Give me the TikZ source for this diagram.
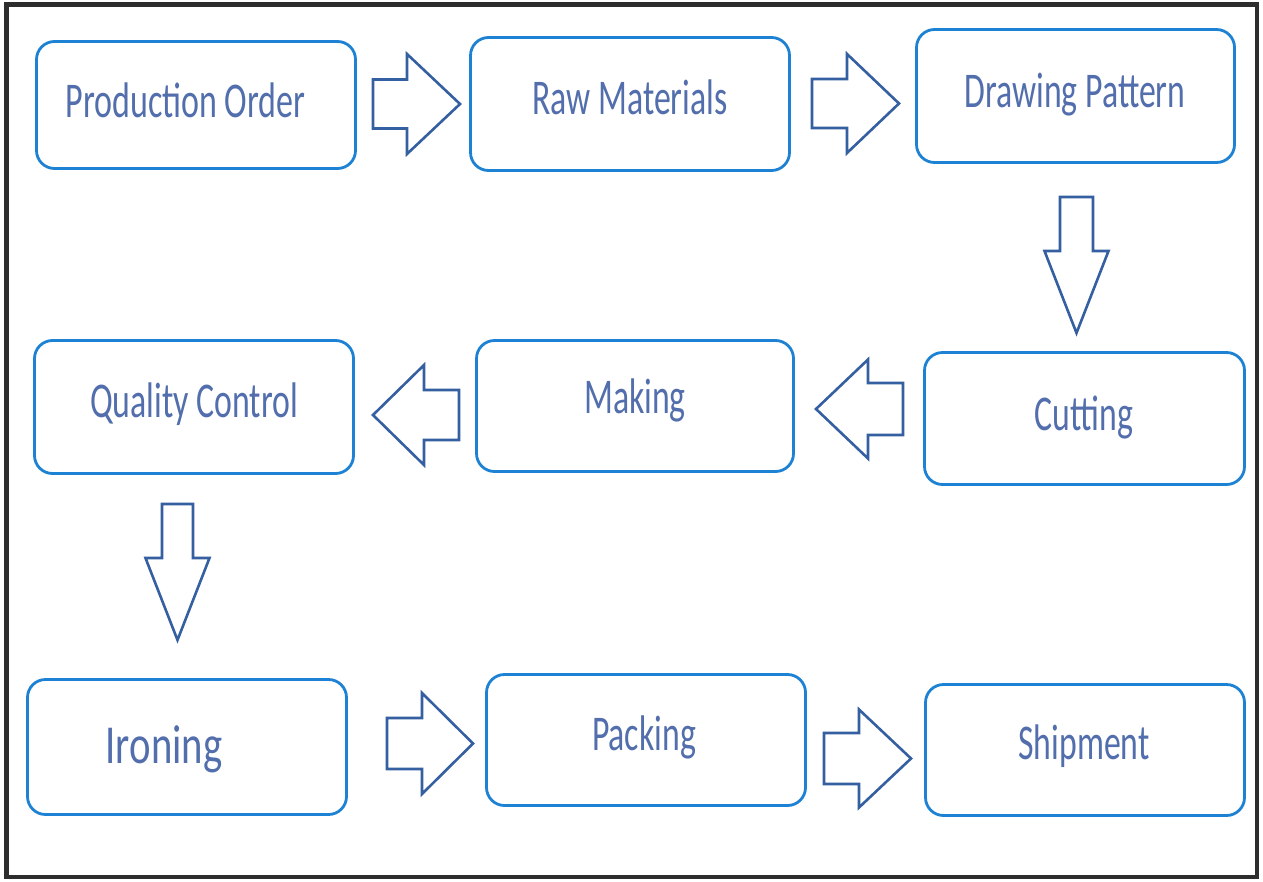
\documentclass[tikz,border=0pt]{standalone}
\usepackage{fontspec}
\setmainfont{Carlito}
\usepackage{graphicx}
\definecolor{boxblue}{RGB}{30,130,212}
\definecolor{arrblue}{RGB}{52,95,160}
\definecolor{txtblue}{RGB}{82,110,172}
\definecolor{framegray}{RGB}{45,45,45}
\newcommand{\lbl}[2]{\scalebox{#1}[1]{#2}}
% right-pointing block arrow: tail x, head base x, tip x, centre y, shaft half, head half
\newcommand{\rarrow}[6]{\draw[blockarrow] (#1,#4-#5) -- (#2,#4-#5) -- (#2,#4-#6) -- (#3,#4) -- (#2,#4+#6) -- (#2,#4+#5) -- (#1,#4+#5) -- cycle;}
% down-pointing block arrow: tail y, head base y, tip y, centre x, shaft half, head half
\newcommand{\darrow}[6]{\draw[blockarrow] (#4-#5,#1) -- (#4-#5,#2) -- (#4-#6,#2) -- (#4,#3) -- (#4+#6,#2) -- (#4+#5,#2) -- (#4+#5,#1) -- cycle;}
\begin{document}
\begin{tikzpicture}[x=1pt,y=-1pt,
  stepbox/.style={draw=boxblue,line width=2.8pt,rounded corners=18pt,inner sep=0pt,fill=white},
  steptext/.style={anchor=base,inner sep=0pt,text=txtblue,font=\fontsize{50}{60}\selectfont},
  blockarrow/.style={draw=arrblue,line width=2.6pt,line join=miter,fill=white}]
\useasboundingbox (0,0) rectangle (1263,881);
\fill[white] (0,0) rectangle (1263,881);
\draw[framegray,line width=4.5pt] (6.5,4.5) rectangle (1257,877);

% boxes
\node[stepbox,minimum width=319pt,minimum height=127pt] (po) at (196,105) {};
\node[stepbox,minimum width=319pt,minimum height=133pt] (rm) at (630,104) {};
\node[stepbox,minimum width=318pt,minimum height=133pt] (dp) at (1075.5,96) {};
\node[stepbox,minimum width=320pt,minimum height=132pt] (cu) at (1084.5,418.5) {};
\node[stepbox,minimum width=317pt,minimum height=131pt] (mk) at (635,406) {};
\node[stepbox,minimum width=319pt,minimum height=133pt] (qc) at (194,407) {};
\node[stepbox,minimum width=319pt,minimum height=135pt] (ir) at (187,747) {};
\node[stepbox,minimum width=319pt,minimum height=131pt] (pk) at (646,740) {};
\node[stepbox,minimum width=319pt,minimum height=131pt] (sh) at (1085,750) {};

% labels
\node[steptext] (tpo) at (185.5,117) {\lbl{0.68}{Production Order}};
\node[steptext] (trm) at (630,114) {\lbl{0.675}{Raw Materials}};
\node[steptext] (tdp) at (1075,107) {\lbl{0.675}{Drawing Pattern}};
\node[steptext] (tcu) at (1084,430) {\lbl{0.675}{Cutting}};
\node[steptext] (tmk) at (635,413) {\lbl{0.675}{Making}};
\node[steptext] (tqc) at (194,417) {\lbl{0.676}{Quality Control}};
\node[steptext,font=\fontsize{55}{66}\selectfont] (tir) at (164,763) {\lbl{0.74}{Ironing}};
\node[steptext] (tpk) at (644,750) {\lbl{0.675}{Packing}};
\node[steptext] (tsh) at (1084,759) {\lbl{0.675}{Shipment}};

% block arrows
\rarrow{373}{407}{460}{104}{24.5}{50}
\rarrow{812}{847}{899}{103.5}{24.5}{49.5}
\darrow{197}{251}{333}{1076.5}{16.5}{32}
\rarrow{903}{868}{816}{409}{26}{49.5}
\rarrow{459}{424}{373}{415}{25}{50}
\darrow{504}{558}{640}{177.5}{15.5}{32}
\rarrow{387}{422}{473}{743.5}{25.5}{50.5}
\rarrow{824}{859}{911}{758.5}{25.5}{49}
\end{tikzpicture}
\end{document}
